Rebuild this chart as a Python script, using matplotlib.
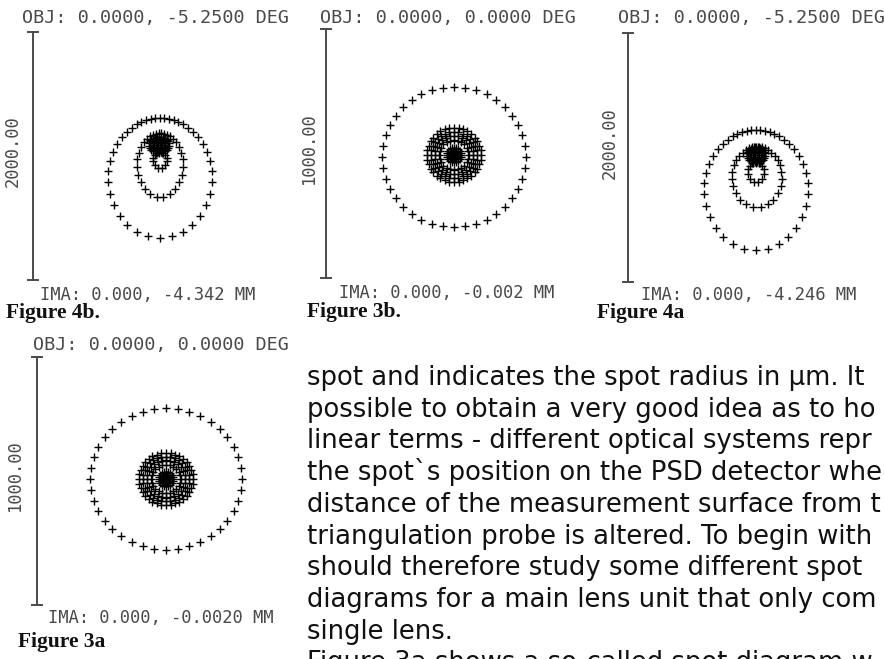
import numpy as np
import matplotlib
matplotlib.use("Agg")
from matplotlib import pyplot as plt

W, H = 884, 659

# spot rings: (cx, cy, semi_x, semi_y, n_rays, crowding) in micrometres, relative to field centre
rings_4b = [(24, -177, 419, 484, 40, 0.45), (24, -73, 185, 258, 30, 0.4), (24, -32, 56, 64, 14, 0.3),
            (16, 89, 80, 64, 24, 0.2), (16, 89, 48, 40, 18, 0.0), (16, 89, 24, 24, 10, 0.0)]
rings_3b = [(16, -14, 290, 282, 40, 0.0), (16, -6, 109, 109, 36, 0.0), (16, -6, 93, 93, 32, 0.0),
            (16, -6, 77, 77, 28, 0.0), (16, -6, 60, 60, 24, 0.0), (16, -6, 28, 28, 20, 0.0),
            (16, -6, 16, 16, 14, 0.0), (16, -6, 8, 8, 8, 0.0)]
rings_4a = [(32, -262, 419, 484, 40, 0.45), (40, -157, 201, 242, 30, 0.4), (32, -117, 64, 80, 14, 0.3),
            (32, 20, 72, 64, 24, 0.2), (32, 20, 48, 40, 18, 0.0), (32, 20, 24, 24, 10, 0.0)]
rings_3a = [(20, 8, 306, 286, 40, 0.0), (20, 8, 109, 105, 36, 0.0), (20, 8, 93, 90, 32, 0.0),
            (20, 8, 77, 75, 28, 0.0), (20, 8, 60, 58, 24, 0.0), (20, 8, 28, 28, 20, 0.0),
            (20, 8, 16, 16, 14, 0.0), (20, 8, 8, 8, 8, 0.0)]

obj_labels = ["OBJ: 0.0000, -5.2500 DEG", "OBJ: 0.0000, 0.0000 DEG",
              "OBJ: 0.0000, -5.2500 DEG", "OBJ: 0.0000, 0.0000 DEG"]
ima_labels = ["IMA: 0.000, -4.342 MM", "IMA: 0.000, -0.002 MM",
              "IMA: 0.000, -4.246 MM", "IMA: 0.000, -0.0020 MM"]
scale_labels = ["2000.00", "1000.00", "2000.00", "1000.00"]
field_sizes = [2000, 1000, 2000, 1000]
captions = ["Figure 4b.", "Figure 3b.", "Figure 4a", "Figure 3a"]

# the scanned page is cut at the right and bottom edges
paragraph = [
    "spot and indicates the spot radius in µm. It",
    "possible to obtain a very good idea as to ho",
    "linear terms - different optical systems repr",
    "the spot`s position on the PSD detector whe",
    "distance of the measurement surface from t",
    "triangulation probe is altered. To begin with",
    "should therefore study some different spot",
    "diagrams for a main lens unit that only com",
    "single lens.",
    "Figure 3a shows a so-called spot diagram w",
]

# layout in pixels (field box left, top, right, bottom)
boxes = [(33, 32, 281, 280), (326, 29, 574, 278), (628, 33, 876, 282), (37, 357, 285, 605)]
obj_pos = [(156, 18), (448, 18), (751, 18), (161, 345)]
ima_pos = [(148, 295), (447, 293), (749, 295), (161, 618)]
scale_pos = [(13, 151), (309, 148), (610, 143), (15, 475)]
cap_pos = [(6, 313), (307, 312), (597, 313), (18, 642)]

fig = plt.figure(figsize=(W / 100, H / 100), dpi=100)
fig.patch.set_facecolor("white")


def fx(x):
    return x / W


def fy(y):
    return 1 - y / H


mono = "DejaVu Sans Mono"
grey = "#4a4a4a"

for i, rings in enumerate([rings_4b, rings_3b, rings_4a, rings_3a]):
    x0, y0, x1, y1 = boxes[i]
    F = field_sizes[i]
    ax = fig.add_axes([fx(x0), fy(y1), (x1 - x0) / W, (y1 - y0) / H])
    ax.set_xlim(-F / 2, F / 2)
    ax.set_ylim(-F / 2, F / 2)
    ax.axis("off")
    for cx, cy, sx, sy, n, crowd in rings:
        t = np.linspace(0, 2 * np.pi, n, endpoint=False)
        th = t + crowd * np.cos(t)
        ax.plot(cx + sx * np.cos(th), cy + sy * np.sin(th), "+", color="black",
                ms=5.2, mew=1.0, clip_on=False)
    cap = F * 5 / 248
    ax.plot([-F / 2, -F / 2], [-F / 2, F / 2], color=grey, lw=1.4, clip_on=False)
    ax.plot([-F / 2 - cap, -F / 2 + cap], [F / 2, F / 2], color=grey, lw=1.4, clip_on=False)
    ax.plot([-F / 2 - cap, -F / 2 + cap], [-F / 2, -F / 2], color=grey, lw=1.4, clip_on=False)

    fig.text(fx(obj_pos[i][0]), fy(obj_pos[i][1]), obj_labels[i], family=mono, size=13.3,
             color=grey, ha="center", va="center")
    fig.text(fx(ima_pos[i][0]), fy(ima_pos[i][1]), ima_labels[i], family=mono, size=12.3,
             color=grey, ha="center", va="center")
    fig.text(fx(scale_pos[i][0]), fy(scale_pos[i][1]), scale_labels[i], family=mono, size=12.3,
             color=grey, ha="center", va="center", rotation=90)
    fig.text(fx(cap_pos[i][0]), fy(cap_pos[i][1]), captions[i], family="Liberation Serif",
             weight="bold", size=15.5, color="#111111", ha="left", va="center")

for k, line in enumerate(paragraph):
    fig.text(fx(307), fy(385 + k * 31.7), line, family="DejaVu Sans", size=18.6,
             color="#111111", ha="left", va="baseline")

fig.savefig("out.png", dpi=100)
